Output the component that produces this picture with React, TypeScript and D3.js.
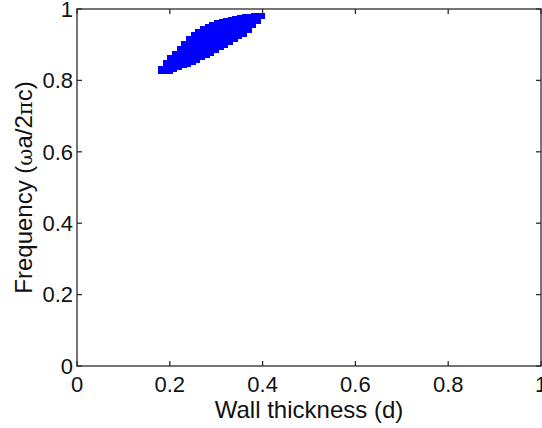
import React, { useEffect, useRef } from "react";
import * as d3 from "d3";

// Wall thickness samples (d) and the photonic band-gap edges at each sample
const thickness = [0.18, 0.19, 0.2, 0.21, 0.22, 0.23, 0.24, 0.25, 0.26, 0.27, 0.28, 0.29, 0.3, 0.31, 0.32, 0.33, 0.34, 0.35, 0.36, 0.37, 0.38, 0.39, 0.4];
const gapTop = [0.84, 0.857, 0.871, 0.883, 0.896, 0.909, 0.925, 0.935, 0.945, 0.951, 0.959, 0.964, 0.969, 0.972, 0.974, 0.977, 0.979, 0.983, 0.985, 0.987, 0.989, 0.99, 0.99];
const gapBottom = [0.818, 0.818, 0.818, 0.824, 0.828, 0.834, 0.838, 0.843, 0.849, 0.857, 0.863, 0.869, 0.877, 0.884, 0.891, 0.9, 0.908, 0.916, 0.922, 0.932, 0.946, 0.959, 0.972];
const xTicks = [0, 0.2, 0.4, 0.6, 0.8, 1];
const yTicks = [0, 0.2, 0.4, 0.6, 0.8, 1];
const xTickLabels = ["0", "0.2", "0.4", "0.6", "0.8", "1"];
const yTickLabels = ["0", "0.2", "0.4", "0.6", "0.8", "1"];
const step = 0.01;

const W = 542;
const H = 428;
const left = 77;
const right = 541;
const top = 9;
const bottom = 366;
const FONT = "'Liberation Sans', Arial, sans-serif";
const AXIS = "#2b2b2b";

export default function App() {
  const ref = useRef<SVGSVGElement>(null);

  useEffect(() => {
    const svg = d3.select(ref.current);
    svg.selectAll("*").remove();

    const x = d3.scaleLinear().domain([0, 1]).range([left, right]);
    const y = d3.scaleLinear().domain([0, 1]).range([bottom, top]);

    svg.append("rect").attr("width", W).attr("height", H).attr("fill", "#fff");

    // band gap cells
    const cells = thickness.map((d, i) => ({ d, lo: gapBottom[i], hi: gapTop[i] }));
    svg
      .append("g")
      .selectAll("rect")
      .data(cells)
      .join("rect")
      .attr("x", (c) => x(c.d - step / 2))
      .attr("width", (c) => x(c.d + step / 2) - x(c.d - step / 2) + 0.5)
      .attr("y", (c) => y(c.hi))
      .attr("height", (c) => y(c.lo) - y(c.hi))
      .attr("fill", "#0000ff")
      .attr("shape-rendering", "crispEdges");

    const tickLen = 5;
    const axes = svg.append("g").attr("stroke", AXIS).attr("stroke-width", 1.3).attr("fill", "none");

    // box
    axes
      .append("rect")
      .attr("x", x(0))
      .attr("y", y(1))
      .attr("width", x(1) - x(0))
      .attr("height", y(0) - y(1));

    // inward ticks on all four sides
    xTicks.forEach((t) => {
      axes.append("line").attr("x1", x(t)).attr("x2", x(t)).attr("y1", y(0)).attr("y2", y(0) - tickLen);
      axes.append("line").attr("x1", x(t)).attr("x2", x(t)).attr("y1", y(1)).attr("y2", y(1) + tickLen);
    });
    yTicks.forEach((t) => {
      axes.append("line").attr("x1", x(0)).attr("x2", x(0) + tickLen).attr("y1", y(t)).attr("y2", y(t));
      axes.append("line").attr("x1", x(1)).attr("x2", x(1) - tickLen).attr("y1", y(t)).attr("y2", y(t));
    });

    const txt = svg.append("g").attr("font-family", FONT).attr("fill", "#111");

    xTicks.forEach((t, i) => {
      txt
        .append("text")
        .attr("x", x(t))
        .attr("y", 392)
        .attr("text-anchor", "middle")
        .attr("font-size", 22)
        .text(xTickLabels[i]);
    });
    yTicks.forEach((t, i) => {
      txt
        .append("text")
        .attr("x", 73)
        .attr("y", y(t))
        .attr("dy", "0.35em")
        .attr("text-anchor", "end")
        .attr("font-size", 22)
        .text(yTickLabels[i]);
    });

    txt
      .append("text")
      .attr("x", (x(0) + x(1)) / 2)
      .attr("y", 418)
      .attr("text-anchor", "middle")
      .attr("font-size", 24)
      .text("Wall thickness (d)");

    const yl = txt
      .append("text")
      .attr("transform", `translate(32,${(y(0) + y(1)) / 2}) rotate(-90)`)
      .attr("text-anchor", "middle")
      .attr("font-size", 24);
    yl.append("tspan").text("Frequency (");
    yl.append("tspan").attr("font-family", "'DejaVu Serif', serif").attr("font-size", 21).text("ω");
    yl.append("tspan").text("a/2");
    yl.append("tspan").attr("font-family", "'DejaVu Serif', serif").attr("font-size", 21).text("π");
    yl.append("tspan").text("c)");
  }, []);

  return (
    <svg
      ref={ref}
      width={W}
      height={H}
      style={{ position: "absolute", left: 0, top: 0, display: "block" }}
    />
  );
}
